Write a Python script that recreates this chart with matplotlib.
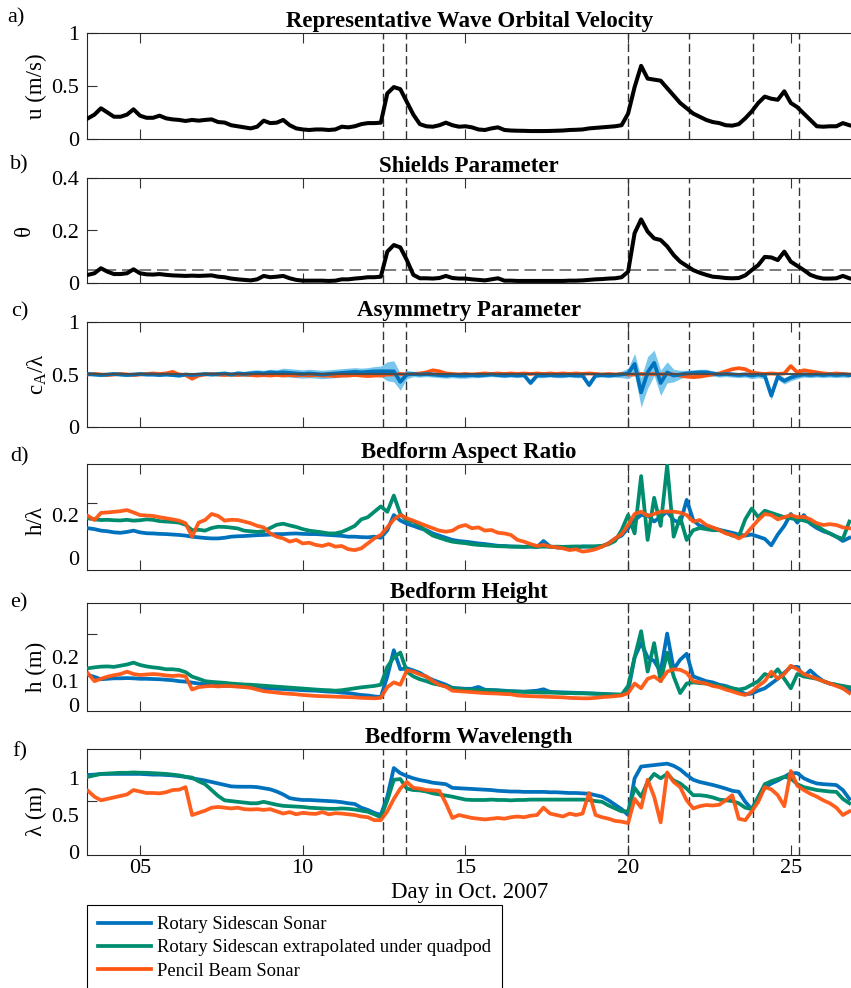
import numpy as np
import matplotlib
matplotlib.use("Agg")
import matplotlib.pyplot as plt
from matplotlib.lines import Line2D

plt.rcParams['font.family'] = 'Liberation Serif'
plt.rcParams['mathtext.fontset'] = 'custom'
plt.rcParams['mathtext.rm'] = 'Liberation Serif'

# sample times (day in Oct. 2007), one value every 0.2 day
day = np.linspace(3.4, 26.8, 118)

# storm / event markers
events = [12.46, 13.17, 20.0, 21.86, 23.85, 25.24]

# a) representative wave orbital velocity (m/s)
u_wave = [0.195, 0.23, 0.29, 0.25, 0.21, 0.21, 0.23, 0.28, 0.22, 0.20,
          0.20, 0.22, 0.195, 0.185, 0.18, 0.17, 0.18, 0.173, 0.18, 0.185,
          0.16, 0.155, 0.13, 0.12, 0.11, 0.10, 0.116, 0.173, 0.15, 0.154,
          0.18, 0.13, 0.10, 0.09, 0.085, 0.09, 0.09, 0.085, 0.09, 0.116,
          0.11, 0.12, 0.14, 0.15, 0.15, 0.154, 0.43, 0.49, 0.47, 0.35,
          0.23, 0.14, 0.12, 0.116, 0.13, 0.154, 0.13, 0.116, 0.12, 0.11,
          0.09, 0.085, 0.10, 0.11, 0.085, 0.08, 0.078, 0.077, 0.075, 0.075,
          0.075, 0.076, 0.078, 0.08, 0.085, 0.087, 0.09, 0.10, 0.105, 0.11,
          0.115, 0.12, 0.13, 0.24, 0.49, 0.69, 0.57, 0.56, 0.55, 0.48,
          0.41, 0.34, 0.29, 0.24, 0.21, 0.18, 0.16, 0.15, 0.13, 0.126,
          0.14, 0.195, 0.26, 0.34, 0.40, 0.38, 0.37, 0.45, 0.34, 0.30,
          0.24, 0.18, 0.12, 0.116, 0.12, 0.12, 0.15, 0.13]

# b) Shields parameter
shields = [0.032, 0.038, 0.057, 0.044, 0.035, 0.035, 0.038, 0.053, 0.038, 0.034,
           0.033, 0.035, 0.032, 0.03, 0.029, 0.028, 0.029, 0.028, 0.029, 0.03,
           0.025, 0.023, 0.018, 0.015, 0.013, 0.011, 0.015, 0.028, 0.023, 0.025,
           0.028, 0.019, 0.013, 0.01, 0.01, 0.01, 0.01, 0.009, 0.01, 0.015,
           0.015, 0.018, 0.02, 0.023, 0.023, 0.025, 0.12, 0.145, 0.136, 0.088,
           0.032, 0.019, 0.019, 0.018, 0.02, 0.028, 0.02, 0.018, 0.018, 0.015,
           0.013, 0.011, 0.015, 0.019, 0.01, 0.01, 0.009, 0.009, 0.009, 0.009,
           0.009, 0.009, 0.009, 0.009, 0.01, 0.01, 0.011, 0.013, 0.015, 0.016,
           0.018, 0.019, 0.023, 0.044, 0.19, 0.242, 0.196, 0.17, 0.164, 0.14,
           0.107, 0.082, 0.066, 0.05, 0.04, 0.032, 0.025, 0.023, 0.02, 0.019,
           0.02, 0.03, 0.05, 0.069, 0.1, 0.098, 0.088, 0.12, 0.082, 0.066,
           0.05, 0.032, 0.023, 0.018, 0.018, 0.019, 0.028, 0.019]
shields_crit = 0.05

# c) asymmetry parameter
asym_rot = [0.505, 0.50, 0.495, 0.50, 0.505, 0.50, 0.495, 0.50, 0.505, 0.50,
            0.50, 0.495, 0.50, 0.495, 0.49, 0.50, 0.495, 0.50, 0.505, 0.50,
            0.505, 0.51, 0.50, 0.51, 0.505, 0.51, 0.515, 0.51, 0.52, 0.515,
            0.52, 0.515, 0.51, 0.505, 0.51, 0.505, 0.50, 0.505, 0.51, 0.515,
            0.52, 0.525, 0.52, 0.525, 0.53, 0.53, 0.53, 0.53, 0.43, 0.50,
            0.505, 0.50, 0.505, 0.50, 0.495, 0.49, 0.495, 0.49, 0.49, 0.495,
            0.49, 0.495, 0.50, 0.495, 0.49, 0.495, 0.49, 0.495, 0.42, 0.49,
            0.49, 0.495, 0.49, 0.49, 0.495, 0.49, 0.49, 0.40, 0.49, 0.495,
            0.49, 0.495, 0.50, 0.51, 0.60, 0.33, 0.52, 0.61, 0.42, 0.52,
            0.49, 0.50, 0.51, 0.515, 0.52, 0.52, 0.51, 0.50, 0.505, 0.50,
            0.495, 0.50, 0.49, 0.50, 0.49, 0.30, 0.48, 0.44, 0.47, 0.49,
            0.50, 0.495, 0.50, 0.495, 0.50, 0.495, 0.50, 0.495]
asym_rot_spread = [0.015] * 20 + \
    [0.02, 0.02, 0.02, 0.025, 0.025, 0.03, 0.03, 0.03, 0.03, 0.03] + \
    [0.04] * 10 + \
    [0.04, 0.04, 0.04, 0.04, 0.045, 0.05, 0.09, 0.1, 0.08, 0.04] + \
    [0.025] * 10 + [0.02] * 20 + \
    [0.02, 0.02, 0.03, 0.05, 0.1, 0.14, 0.15, 0.12, 0.12, 0.1] + \
    [0.06, 0.04, 0.03, 0.03, 0.03, 0.03, 0.025, 0.025, 0.025, 0.025] + \
    [0.025, 0.025, 0.03, 0.03, 0.03, 0.04, 0.03, 0.03, 0.03, 0.03] + \
    [0.025] * 8
asym_pb = [0.50, 0.505, 0.50, 0.495, 0.50, 0.505, 0.50, 0.495, 0.50, 0.505,
           0.51, 0.505, 0.51, 0.525, 0.50, 0.495, 0.46, 0.49, 0.50, 0.505,
           0.50, 0.495, 0.50, 0.495, 0.50, 0.495, 0.49, 0.495, 0.49, 0.495,
           0.49, 0.495, 0.49, 0.495, 0.49, 0.495, 0.49, 0.49, 0.485, 0.49,
           0.49, 0.495, 0.49, 0.485, 0.49, 0.49, 0.50, 0.50, 0.505, 0.50,
           0.505, 0.51, 0.52, 0.54, 0.53, 0.51, 0.505, 0.50, 0.505, 0.50,
           0.505, 0.51, 0.505, 0.51, 0.505, 0.51, 0.505, 0.51, 0.505, 0.51,
           0.505, 0.51, 0.505, 0.51, 0.505, 0.51, 0.505, 0.51, 0.505, 0.50,
           0.505, 0.50, 0.505, 0.50, 0.50, 0.505, 0.50, 0.505, 0.50, 0.505,
           0.50, 0.49, 0.48, 0.475, 0.48, 0.49, 0.50, 0.51, 0.53, 0.55,
           0.56, 0.55, 0.52, 0.51, 0.505, 0.51, 0.505, 0.51, 0.58, 0.52,
           0.54, 0.53, 0.52, 0.51, 0.505, 0.51, 0.505, 0.50]

# d) bedform aspect ratio h/lambda
ar_rot = [0.139, 0.135, 0.128, 0.125, 0.12, 0.118, 0.122, 0.128, 0.12, 0.116,
          0.115, 0.113, 0.112, 0.11, 0.108, 0.105, 0.1, 0.097, 0.094, 0.092,
          0.092, 0.095, 0.1, 0.102, 0.103, 0.105, 0.107, 0.108, 0.11, 0.112,
          0.112, 0.114, 0.115, 0.113, 0.112, 0.112, 0.11, 0.108, 0.106, 0.104,
          0.1, 0.1, 0.098, 0.097, 0.1, 0.095, 0.13, 0.2, 0.175, 0.16,
          0.15, 0.139, 0.13, 0.115, 0.105, 0.095, 0.085, 0.08, 0.077, 0.073,
          0.069, 0.066, 0.062, 0.058, 0.057, 0.055, 0.054, 0.053, 0.055, 0.052,
          0.08, 0.055, 0.05, 0.048, 0.046, 0.05, 0.055, 0.054, 0.052, 0.055,
          0.07, 0.09, 0.105, 0.139, 0.177, 0.2, 0.2, 0.17, 0.192, 0.216,
          0.177, 0.162, 0.27, 0.177, 0.15, 0.145, 0.14, 0.132, 0.125, 0.118,
          0.11, 0.105, 0.11, 0.1, 0.09, 0.06, 0.11, 0.15, 0.205, 0.165,
          0.2, 0.16, 0.14, 0.125, 0.115, 0.1, 0.08, 0.095]
ar_ext = [0.185, 0.18, 0.177, 0.178, 0.176, 0.175, 0.178, 0.174, 0.176, 0.18,
          0.178, 0.172, 0.17, 0.168, 0.165, 0.155, 0.13, 0.132, 0.128, 0.14,
          0.146, 0.145, 0.142, 0.138, 0.128, 0.125, 0.122, 0.125, 0.14, 0.155,
          0.16, 0.152, 0.145, 0.135, 0.128, 0.124, 0.12, 0.115, 0.115, 0.122,
          0.135, 0.15, 0.18, 0.19, 0.215, 0.24, 0.215, 0.29, 0.205, 0.175,
          0.17, 0.15, 0.125, 0.105, 0.095, 0.085, 0.077, 0.073, 0.07, 0.065,
          0.062, 0.06, 0.058, 0.056, 0.055, 0.054, 0.054, 0.053, 0.054, 0.053,
          0.054, 0.053, 0.054, 0.053, 0.054, 0.055, 0.054, 0.055, 0.056, 0.058,
          0.065, 0.08, 0.13, 0.2, 0.115, 0.38, 0.085, 0.28, 0.15, 0.43,
          0.10, 0.19, 0.085, 0.13, 0.14, 0.135, 0.13, 0.13, 0.12, 0.105,
          0.1, 0.18, 0.23, 0.19, 0.22, 0.21, 0.2, 0.19, 0.185, 0.18,
          0.175, 0.165, 0.15, 0.13, 0.115, 0.1, 0.09, 0.17]
ar_pb = [0.196, 0.177, 0.21, 0.212, 0.215, 0.218, 0.223, 0.212, 0.2, 0.198,
         0.196, 0.19, 0.185, 0.18, 0.174, 0.162, 0.1, 0.165, 0.177, 0.205,
         0.196, 0.174, 0.178, 0.177, 0.17, 0.162, 0.15, 0.143, 0.115, 0.1,
         0.092, 0.077, 0.085, 0.069, 0.072, 0.062, 0.057, 0.066, 0.054, 0.057,
         0.042, 0.038, 0.046, 0.069, 0.092, 0.108, 0.143, 0.18, 0.2, 0.185,
         0.174, 0.162, 0.15, 0.139, 0.128, 0.123, 0.128, 0.146, 0.154, 0.139,
         0.143, 0.128, 0.131, 0.118, 0.115, 0.108, 0.085, 0.077, 0.066, 0.057,
         0.062, 0.054, 0.051, 0.046, 0.038, 0.042, 0.031, 0.035, 0.042, 0.054,
         0.069, 0.092, 0.112, 0.154, 0.205, 0.216, 0.196, 0.205, 0.216, 0.216,
         0.216, 0.211, 0.2, 0.17, 0.177, 0.154, 0.143, 0.131, 0.115, 0.108,
         0.092, 0.108, 0.143, 0.177, 0.205, 0.2, 0.18, 0.19, 0.2, 0.19,
         0.192, 0.18, 0.162, 0.154, 0.158, 0.154, 0.143, 0.139]

# e) bedform height (m)
h_rot = [0.126, 0.118, 0.108, 0.11, 0.112, 0.112, 0.113, 0.112, 0.11, 0.11,
         0.109, 0.108, 0.106, 0.104, 0.1, 0.098, 0.094, 0.09, 0.087, 0.084,
         0.08, 0.08, 0.08, 0.079, 0.078, 0.077, 0.074, 0.071, 0.07, 0.068,
         0.067, 0.065, 0.064, 0.062, 0.061, 0.06, 0.058, 0.056, 0.055, 0.052,
         0.05, 0.046, 0.042, 0.04, 0.036, 0.033, 0.12, 0.23, 0.15, 0.154,
         0.145, 0.135, 0.118, 0.105, 0.095, 0.085, 0.072, 0.07, 0.068, 0.068,
         0.076, 0.064, 0.063, 0.062, 0.06, 0.058, 0.057, 0.056, 0.058, 0.06,
         0.066, 0.055, 0.054, 0.053, 0.052, 0.051, 0.05, 0.049, 0.048, 0.047,
         0.045, 0.044, 0.043, 0.056, 0.2, 0.26, 0.2, 0.185, 0.14, 0.3,
         0.15, 0.19, 0.215, 0.12, 0.11, 0.1, 0.095, 0.085, 0.08, 0.07,
         0.062, 0.045, 0.048, 0.06, 0.07, 0.09, 0.11, 0.135, 0.16, 0.16,
         0.12, 0.145, 0.12, 0.1, 0.09, 0.085, 0.07, 0.06]
h_ext = [0.154, 0.158, 0.161, 0.162, 0.16, 0.165, 0.17, 0.178, 0.168, 0.162,
         0.158, 0.155, 0.15, 0.15, 0.147, 0.138, 0.119, 0.11, 0.1, 0.097,
         0.095, 0.093, 0.09, 0.088, 0.086, 0.085, 0.083, 0.081, 0.079, 0.077,
         0.075, 0.073, 0.071, 0.069, 0.067, 0.065, 0.063, 0.062, 0.06, 0.062,
         0.066, 0.07, 0.074, 0.077, 0.08, 0.085, 0.16, 0.2, 0.22, 0.14,
         0.12, 0.108, 0.1, 0.09, 0.085, 0.078, 0.07, 0.067, 0.065, 0.064,
         0.063, 0.062, 0.061, 0.06, 0.058, 0.057, 0.056, 0.055, 0.054, 0.053,
         0.052, 0.052, 0.051, 0.05, 0.05, 0.049, 0.049, 0.048, 0.047, 0.046,
         0.045, 0.044, 0.043, 0.08, 0.2, 0.31, 0.14, 0.26, 0.1, 0.22,
         0.12, 0.05, 0.09, 0.095, 0.092, 0.09, 0.085, 0.08, 0.075, 0.07,
         0.065, 0.07, 0.085, 0.1, 0.13, 0.12, 0.15, 0.11, 0.07, 0.13,
         0.12, 0.115, 0.11, 0.1, 0.09, 0.085, 0.08, 0.075]
h_pb = [0.133, 0.1, 0.11, 0.119, 0.125, 0.13, 0.14, 0.13, 0.126, 0.128,
        0.13, 0.128, 0.124, 0.122, 0.124, 0.12, 0.065, 0.075, 0.078, 0.08,
        0.078, 0.08, 0.079, 0.077, 0.075, 0.072, 0.065, 0.058, 0.055, 0.052,
        0.049, 0.047, 0.045, 0.042, 0.04, 0.038, 0.037, 0.036, 0.035, 0.034,
        0.033, 0.032, 0.03, 0.029, 0.028, 0.03, 0.075, 0.095, 0.085, 0.145,
        0.14, 0.128, 0.12, 0.1, 0.085, 0.077, 0.06, 0.058, 0.056, 0.054,
        0.052, 0.05, 0.049, 0.048, 0.046, 0.045, 0.04, 0.038, 0.037, 0.036,
        0.035, 0.034, 0.033, 0.032, 0.03, 0.029, 0.028, 0.028, 0.03, 0.033,
        0.035, 0.037, 0.04, 0.05, 0.09, 0.07, 0.11, 0.12, 0.1, 0.14,
        0.15, 0.148, 0.135, 0.1, 0.095, 0.09, 0.08, 0.075, 0.065, 0.057,
        0.048, 0.042, 0.055, 0.08, 0.1, 0.14, 0.11, 0.13, 0.165, 0.15,
        0.13, 0.12, 0.11, 0.1, 0.09, 0.08, 0.07, 0.05]

# f) bedform wavelength (m)
wl_rot = [1.045, 1.05, 1.06, 1.06, 1.06, 1.06, 1.06, 1.06, 1.06, 1.055,
          1.05, 1.05, 1.045, 1.04, 1.03, 1.02, 1.0, 0.985, 0.97, 0.95,
          0.93, 0.91, 0.89, 0.886, 0.885, 0.885, 0.88, 0.865, 0.85, 0.82,
          0.78, 0.73, 0.715, 0.705, 0.705, 0.7, 0.695, 0.69, 0.685, 0.675,
          0.66, 0.65, 0.6, 0.57, 0.53, 0.5, 0.75, 1.14, 1.07, 1.03,
          1.0, 0.976, 0.96, 0.94, 0.93, 0.92, 0.87, 0.865, 0.86, 0.855,
          0.85, 0.845, 0.84, 0.83, 0.825, 0.82, 0.82, 0.815, 0.815, 0.815,
          0.815, 0.81, 0.81, 0.805, 0.8, 0.8, 0.795, 0.79, 0.77, 0.75,
          0.7, 0.64, 0.58, 0.5, 1.0, 1.16, 1.17, 1.18, 1.19, 1.2,
          1.17, 1.12, 1.045, 0.98, 0.95, 0.93, 0.91, 0.886, 0.86, 0.83,
          0.817, 0.68, 0.58, 0.72, 0.87, 0.93, 0.97, 1.02, 1.07, 1.07,
          1.0, 0.96, 0.93, 0.92, 0.915, 0.908, 0.84, 0.72]
wl_ext = [1.02, 1.04, 1.06, 1.065, 1.07, 1.075, 1.075, 1.08, 1.076, 1.075,
          1.07, 1.065, 1.06, 1.05, 1.04, 1.02, 1.01, 0.96, 0.92, 0.84,
          0.76, 0.7, 0.69, 0.68, 0.67, 0.66, 0.66, 0.68, 0.66, 0.64,
          0.625, 0.62, 0.615, 0.61, 0.6, 0.595, 0.59, 0.585, 0.585, 0.59,
          0.585, 0.575, 0.56, 0.545, 0.51, 0.47, 0.7, 0.98, 0.99, 0.86,
          0.84, 0.835, 0.82, 0.795, 0.78, 0.765, 0.75, 0.73, 0.71, 0.705,
          0.705, 0.705, 0.71, 0.705, 0.705, 0.7, 0.705, 0.705, 0.71, 0.71,
          0.71, 0.71, 0.71, 0.71, 0.71, 0.71, 0.71, 0.705, 0.69, 0.68,
          0.63, 0.59, 0.55, 0.55, 0.87, 0.75, 0.95, 1.06, 1.0, 1.06,
          0.97, 0.93, 0.86, 0.77, 0.77, 0.76, 0.74, 0.71, 0.7, 0.69,
          0.66, 0.6, 0.58, 0.75, 0.92, 0.96, 0.99, 1.02, 1.0, 0.92,
          0.88, 0.86, 0.84, 0.83, 0.82, 0.815, 0.72, 0.66]
wl_pb = [0.83, 0.75, 0.7, 0.72, 0.74, 0.76, 0.78, 0.84, 0.82, 0.8,
         0.8, 0.795, 0.81, 0.84, 0.845, 0.88, 0.5, 0.53, 0.56, 0.6,
         0.61, 0.6, 0.59, 0.6, 0.58, 0.575, 0.58, 0.57, 0.58, 0.55,
         0.52, 0.54, 0.51, 0.53, 0.52, 0.515, 0.54, 0.51, 0.525, 0.52,
         0.51, 0.5, 0.48, 0.47, 0.43, 0.43, 0.55, 0.72, 0.86, 0.95,
         0.87, 0.86, 0.84, 0.835, 0.83, 0.66, 0.46, 0.5, 0.48, 0.46,
         0.45, 0.44, 0.45, 0.46, 0.45, 0.47, 0.48, 0.47, 0.49, 0.5,
         0.6, 0.52, 0.5, 0.48, 0.52, 0.5, 0.52, 0.8, 0.5, 0.47,
         0.45, 0.42, 0.41, 0.39, 0.72, 0.6, 0.98, 0.75, 0.4, 1.08,
         0.95, 0.88, 0.7, 0.59, 0.62, 0.636, 0.63, 0.64, 0.7, 0.77,
         0.45, 0.43, 0.55, 0.68, 0.88, 0.85, 0.77, 0.62, 1.1, 0.9,
         0.84, 0.79, 0.75, 0.7, 0.66, 0.6, 0.5, 0.55]

legend_labels = ["Rotary Sidescan Sonar",
                 "Rotary Sidescan extrapolated under quadpod",
                 "Pencil Beam Sonar"]

BLUE = '#0072BD'
GREEN = '#008C6E'
ORANGE = '#FF5511'
BAND = '#62BCEA'
W, H = 851.0, 988.0
LEFT = 87.3
FS = 16.5   # titles / labels
TFS = 16    # tick labels
LW = 2.7


def axes_rect(top, bottom):
    return [LEFT / W, 1 - bottom / H, 1 - LEFT / W, (bottom - top) / H]


def style_axes(ax, ylim, label_pos, label_txt, marks=None):
    ax.set_xlim(3.38, 26.85)
    ax.set_ylim(*ylim)
    ax.set_xticks([5, 10, 15, 20, 25])
    ax.set_xticklabels([])
    ax.set_yticks(label_pos)
    ax.set_yticklabels(label_txt)
    ax.tick_params(axis='x', direction='in', length=7.5, width=0.8,
                   top=True, color='0.2', labelsize=TFS, pad=3)
    ax.tick_params(axis='y', direction='in', length=7, width=0.8,
                   right=False, color='0.2', labelsize=TFS, pad=6)
    if marks is not None:
        # tick marks drawn apart from the labels, as in the original
        ax.tick_params(axis='y', which='major', length=0)
        ax.set_yticks(marks, minor=True)
        ax.tick_params(axis='y', which='minor', direction='in', length=7,
                       width=0.8, color='0.2', right=False)
    for s in ['left', 'top', 'bottom']:
        ax.spines[s].set_linewidth(0.8)
        ax.spines[s].set_color('0.15')
    ax.spines['right'].set_visible(False)
    for e in events:
        ax.axvline(e, color='0.2', lw=1.0, ls=(0, (6, 3)), zorder=1)


def ylab(ax, txt, x, y=0.5):
    ax.text(x, y, txt, transform=ax.transAxes, rotation=90,
            ha='center', va='center', fontsize=FS)


fig = plt.figure(figsize=(W / 100, H / 100), dpi=100)

panels = [(33, 139), (177.7, 283.3), (321.7, 427.3),
          (464, 570), (603.3, 710.7), (748.7, 854.7)]
titles = ["Representative Wave Orbital Velocity", "Shields Parameter",
          "Asymmetry Parameter", "Bedform Aspect Ratio", "Bedform Height",
          "Bedform Wavelength"]
letters = ["a)", "b)", "c)", "d)", "e)", "f)"]
letter_y = [18, 165, 312, 457, 603, 752]
letter_x = [7, 10, 11, 10, 10, 12]

axs = [fig.add_axes(axes_rect(t, b)) for t, b in panels]

# a)
ax = axs[0]
ax.plot(day, u_wave, color='k', lw=LW + 0.2, zorder=3)
style_axes(ax, (0, 1), [0, 0.5, 1], ['0', '0.5', '1'])
ylab(ax, 'u (m/s)', -0.066)

# b)
ax = axs[1]
ax.axhline(shields_crit, color='0.4', lw=1.2, ls=(0, (7, 3.5)), zorder=2)
ax.plot(day, shields, color='k', lw=LW + 0.2, zorder=3)
style_axes(ax, (0, 0.4), [0, 0.2, 0.4], ['0', '0.2', '0.4'])
ylab(ax, 'θ', -0.083)

# c)
ax = axs[2]
lo = np.array(asym_rot) - np.array(asym_rot_spread)
hi = np.array(asym_rot) + np.array(asym_rot_spread)
ax.fill_between(day, lo, hi, color=BAND, lw=0, alpha=0.85, zorder=2)
ax.plot(day, asym_pb, color=ORANGE, lw=LW, zorder=3)
ax.plot(day, asym_rot, color=BLUE, lw=LW, zorder=4)
ax.axhline(0.5, color='0.3', lw=1.5, zorder=5)
style_axes(ax, (0, 1), [0, 0.5, 1], ['0', '0.5', '1'])
ylab(ax, r'$\mathregular{c_A}$/λ', -0.066)

# d)
ax = axs[3]
ax.plot(day, ar_rot, color=BLUE, lw=LW, zorder=3)
ax.plot(day, ar_ext, color=GREEN, lw=LW, zorder=4)
ax.plot(day, ar_pb, color=ORANGE, lw=LW, zorder=5, alpha=0.95)
style_axes(ax, (-0.054, 0.436), [0, 0.2], ['0', '0.2'], marks=[0.254])
ylab(ax, 'h/λ', -0.067, 0.47)

# e)
ax = axs[4]
ax.plot(day, h_rot, color=BLUE, lw=LW, zorder=3)
ax.plot(day, h_ext, color=GREEN, lw=LW, zorder=4)
ax.plot(day, h_pb, color=ORANGE, lw=LW, zorder=5, alpha=0.95)
style_axes(ax, (-0.024, 0.427), [0, 0.1, 0.2], ['0', '0.1', '0.2'], marks=[0.3])
ylab(ax, 'h (m)', -0.066, 0.41)

# f)
ax = axs[5]
ax.plot(day, wl_rot, color=BLUE, lw=LW, zorder=3)
ax.plot(day, wl_ext, color=GREEN, lw=LW, zorder=4)
ax.plot(day, wl_pb, color=ORANGE, lw=LW, zorder=5, alpha=0.95)
style_axes(ax, (-0.04, 1.403), [0, 0.5, 1], ['0', '0.5', '1'], marks=[0.69])
ylab(ax, 'λ (m)', -0.066, 0.415)
ax.set_xticklabels(['05', '10', '15', '20', '25'])
ax.set_xlabel('Day in Oct. 2007', fontsize=FS, labelpad=3)

for ax, t, lt, lx, ly in zip(axs, titles, letters, letter_x, letter_y):
    ax.set_title(t, fontsize=FS, fontweight='bold', pad=4)
    fig.text(lx / W, 1 - ly / H, lt, fontsize=FS - 0.5, ha='left', va='center')

handles = [Line2D([], [], color=c, lw=LW) for c in (BLUE, GREEN, ORANGE)]
leg = fig.legend(handles, legend_labels, loc='upper left',
                 bbox_to_anchor=(LEFT / W, 1 - 905 / H), fontsize=13.4,
                 frameon=True, fancybox=False, edgecolor='black',
                 framealpha=1, handlelength=2.8, handletextpad=0.35,
                 labelspacing=0.33, borderpad=0.6, borderaxespad=0)
leg.get_frame().set_linewidth(0.8)

fig.savefig('out.png', dpi=100)
